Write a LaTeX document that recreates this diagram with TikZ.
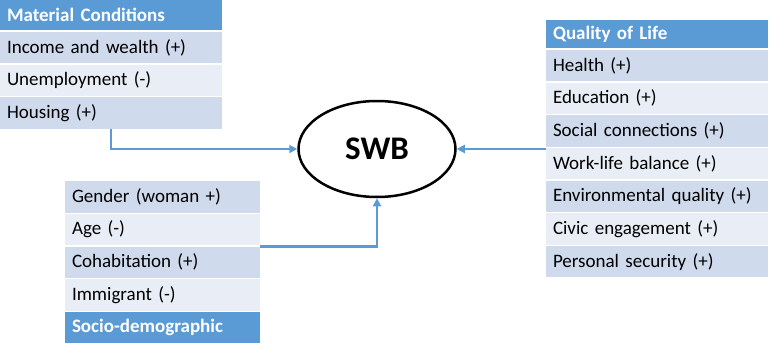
\documentclass[tikz,border=0pt]{standalone}
\usepackage{fontspec}
\setmainfont{Carlito}
\usetikzlibrary{positioning,arrows.meta,shapes.geometric}
\definecolor{hdrblue}{HTML}{5B9BD5}
\definecolor{rowdark}{HTML}{CFDAEC}
\definecolor{rowlight}{HTML}{E9EEF6}

\begin{document}
\begin{tikzpicture}[x=1pt,y=-1pt,node distance=1.4pt,>={Triangle[length=8pt,width=8pt]},
  cell/.style={text width=#1,inner xsep=7pt,inner ysep=0pt,outer sep=0pt,minimum height=31.3pt,
    align=left,font=\fontsize{19}{21}\selectfont},
  hdr/.style={fill=hdrblue,text=white,font=\bfseries\fontsize{19}{21}\selectfont},
  dark/.style={fill=rowdark},
  light/.style={fill=rowlight},
  link/.style={->,draw=hdrblue,line width=2.5pt}]
\useasboundingbox (0,0) rectangle (770,345);

\node[cell=208pt,hdr,minimum height=30.5pt,anchor=north west] (matcond) at (0,0) {Material Conditions};
\node[cell=208pt,dark,below=of matcond] (income) {Income and wealth (+)};
\node[cell=208pt,light,below=of income] (unemp) {Unemployment (-)};
\node[cell=208pt,dark,below=of unemp] (housing) {Housing (+)};

\node[cell=208pt,hdr,minimum height=28.5pt,anchor=north west] (qol) at (546,20) {Quality of Life};
\node[cell=208pt,dark,below=of qol] (health) {Health (+)};
\node[cell=208pt,light,below=of health] (educ) {Education (+)};
\node[cell=208pt,dark,below=of educ] (social) {Social connections (+)};
\node[cell=208pt,light,below=of social] (worklife) {Work-life balance (+)};
\node[cell=208pt,dark,below=of worklife] (environ) {Environmental quality (+)};
\node[cell=208pt,light,below=of environ] (civic) {Civic engagement (+)};
\node[cell=208pt,dark,below=of civic] (security) {Personal security (+)};

\node[cell=181pt,hdr,minimum height=31pt,anchor=south west] (sociodem) at (65,343) {Socio-demographic};
\node[cell=181pt,light,above=of sociodem] (immig) {Immigrant (-)};
\node[cell=181pt,dark,above=of immig] (cohab) {Cohabitation (+)};
\node[cell=181pt,light,above=of cohab] (age) {Age (-)};
\node[cell=181pt,dark,above=of age] (gender) {Gender (woman +)};

\node[draw,ellipse,line width=2.5pt,minimum width=157pt,minimum height=96pt,
  font=\bfseries\fontsize{33}{33}\selectfont] (swb) at (377,149) {SWB};

\draw[link] (housing.south) |- (swb.west);
\draw[link] (swb.east -| worklife.west) -- (swb.east);
\draw[link] (cohab.north east) -| (swb.south);
\end{tikzpicture}
\end{document}
